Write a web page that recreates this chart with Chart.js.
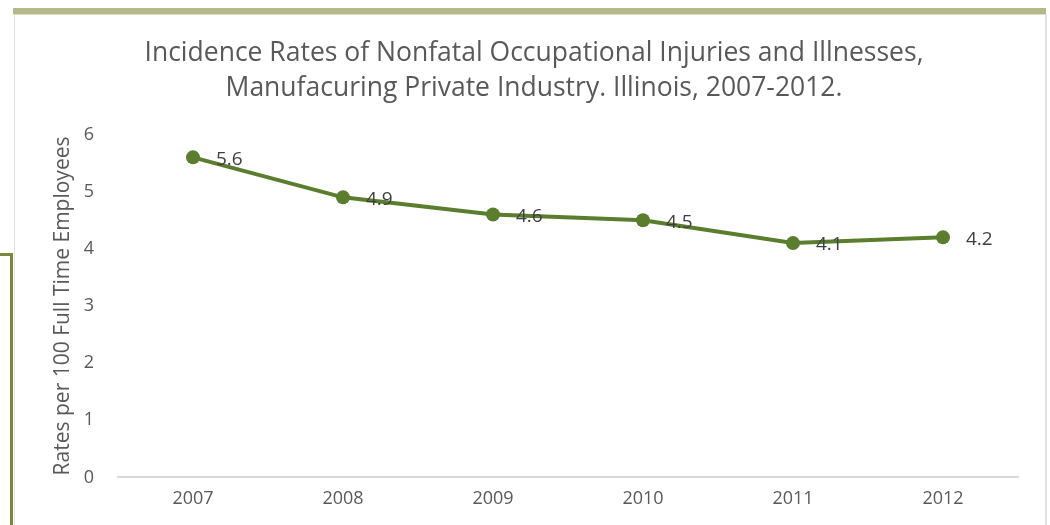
<!DOCTYPE html>
<html>
<head>
<meta charset="utf-8">
<script src="https://cdn.jsdelivr.net/npm/chart.js@4.4.0/dist/chart.umd.min.js"></script>
<style>
  html, body { margin: 0; padding: 0; background: #fff; }
  #wrap { position: relative; width: 1050px; height: 525px; overflow: hidden; }
  #chart { position: absolute; left: 0; top: 0; }
  .topbar { position: absolute; left: 13px; top: 8px; width: 1033px; height: 6px; background: #b5b98a; border-bottom: 1px solid #dcdcc8; }
  .panel { position: absolute; left: 14px; top: 15px; width: 1030px; height: 520px; border-left: 1px solid #e2e2e2; border-right: 2px solid #e2e2e2; }
  .box { position: absolute; left: -10px; top: 253px; width: 20px; height: 300px; border-top: 3px solid #7a8a3a; border-right: 3px solid #7a8a3a; }
</style>
</head>
<body>
<div id="wrap">
  <div class="panel"></div>
  <div class="topbar"></div>
  <div class="box"></div>
  <canvas id="chart" width="1050" height="525"></canvas>
</div>
<script>
var years = ["2007", "2008", "2009", "2010", "2011", "2012"];
var rates = [5.6, 4.9, 4.6, 4.5, 4.1, 4.2];
var titleLines = [
  "Incidence Rates of Nonfatal Occupational Injuries and Illnesses,",
  "Manufacuring Private Industry. Illinois, 2007-2012."
];
var yTitle = "Rates per 100 Full Time Employees";

var fontFamily = "'Open Sans', 'Noto Sans', sans-serif";

// draws the value next to each point, like the office chart does
var valueLabels = {
  id: 'valueLabels',
  afterDatasetsDraw: function (chart) {
    var ctx = chart.ctx;
    var meta = chart.getDatasetMeta(0);
    ctx.save();
    ctx.font = "19px " + fontFamily;
    ctx.fillStyle = "#404040";
    ctx.textAlign = "left";
    ctx.textBaseline = "middle";
    meta.data.forEach(function (pt, i) {
      ctx.fillText(rates[i].toFixed(1), pt.x + 23, pt.y + 2);
    });
    ctx.restore();
  }
};

var ctx = document.getElementById('chart');
var chart = new Chart(ctx, {
  type: 'line',
  data: {
    labels: years,
    datasets: [{
      data: rates,
      borderColor: "#5a7d2e",
      backgroundColor: "#5a7d2e",
      borderWidth: 4,
      pointRadius: 7,
      pointBackgroundColor: "#5a7d2e",
      pointBorderWidth: 0,
      tension: 0,
      fill: false
    }]
  },
  options: {
    responsive: false,
    animation: false,
    layout: { padding: { left: 50, right: 32, top: 0, bottom: 4 } },
    plugins: {
      legend: { display: false },
      tooltip: { enabled: false },
      title: {
        display: true,
        text: titleLines,
        color: "#595959",
        font: { family: fontFamily, size: 26.5, weight: 'normal', lineHeight: 1.33 },
        padding: { top: 36, bottom: 28 }
      }
    },
    scales: {
      x: {
        offset: true,
        grid: { display: false, drawTicks: false },
        border: { display: true, color: "#d9d9d9", width: 2 },
        ticks: { color: "#595959", font: { family: fontFamily, size: 18 }, padding: 11 }
      },
      y: {
        min: 0,
        max: 6,
        grid: { display: false, drawTicks: false },
        border: { display: false },
        ticks: { stepSize: 1, color: "#595959", font: { family: fontFamily, size: 18 }, padding: 24 },
        title: {
          display: true,
          text: yTitle,
          color: "#595959",
          font: { family: fontFamily, size: 21 },
          padding: { top: 0, bottom: 0 }
        },
        afterFit: function (axis) { axis.width = 68; }
      }
    }
  },
  plugins: [valueLabels]
});
</script>
</body>
</html>
